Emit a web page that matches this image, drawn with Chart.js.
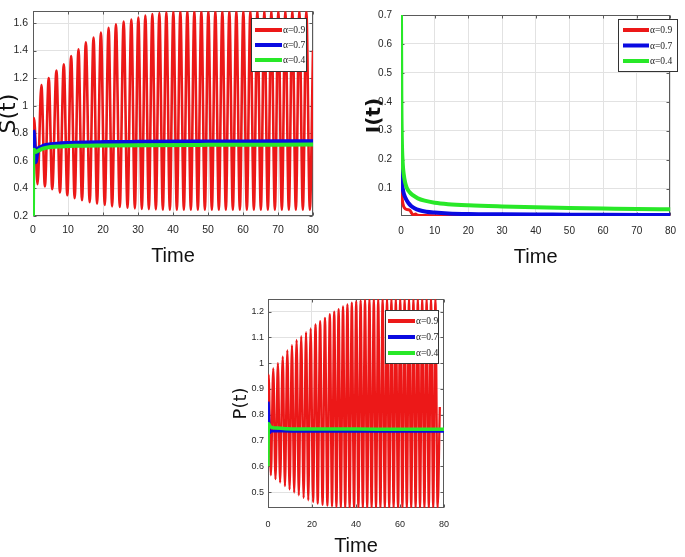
<!DOCTYPE html>
<html><head><meta charset="utf-8">
<script src="https://cdn.jsdelivr.net/npm/chart.js@4"></script>
<style>
html,body{margin:0;padding:0;background:#fff;overflow:hidden}
#wrap{position:relative;width:685px;height:557px;background:#fff}
canvas{position:absolute}
</style></head><body><div id="wrap">
<canvas id="cS" width="330" height="270" style="left:0;top:0"></canvas>
<canvas id="cI" width="340" height="270" style="left:345px;top:0"></canvas>
<canvas id="cP" width="240" height="272" style="left:220px;top:285px"></canvas>
</div>
<script>
// ---------- data ----------
const alphaLabels = ['α=0.9', 'α=0.7', 'α=0.4'];
const xTicksTop = [0, 10, 20, 30, 40, 50, 60, 70, 80];
const xTicksP = [0, 20, 40, 60, 80];
const sYTicks = [0.2, 0.4, 0.6, 0.8, 1, 1.2, 1.4, 1.6];
const iYTicks = [0.1, 0.2, 0.3, 0.4, 0.5, 0.6, 0.7];
const pYTicks = [0.5, 0.6, 0.7, 0.8, 0.9, 1, 1.1, 1.2];

// alpha = 0.9 : oscillating solution (turning points)
const redTimes = [0, 0.3, 1.3, 2.4, 3.4, 4.5, 5.5, 6.7, 7.7, 8.8, 9.8, 10.9, 11.9, 13.0, 14.0, 15.1, 16.2, 17.3, 18.3, 19.4,
  20.5, 21.6, 22.6, 23.7, 24.8, 25.9, 27.0, 28.1, 29.1, 30.1, 31.1, 32.1, 33.1, 34.1, 35.1, 36.1, 37.1, 38.1, 39.1, 40.1,
  41.1, 42.1, 43.1, 44.1, 45.1, 46.1, 47.1, 48.1, 49.1, 50.1, 51.1, 52.1, 53.1, 54.1, 55.1, 56.1, 57.1, 58.1, 59.1, 60.1,
  61.1, 62.1, 63.1, 64.1, 65.1, 66.1, 67.1, 68.1, 69.1, 70.1, 71.1, 72.1, 73.1, 74.1, 75.1, 76.1, 77.1, 78.1, 79.1, 80];
const sRed = [0.70, 0.91, 0.43, 1.15, 0.415, 1.20, 0.395, 1.255, 0.37, 1.30, 0.35, 1.36, 0.33, 1.41, 0.315, 1.46, 0.30, 1.495, 0.29, 1.53,
  0.28, 1.565, 0.27, 1.59, 0.265, 1.61, 0.26, 1.625, 0.255, 1.64, 0.252, 1.655, 0.25, 1.665, 0.248, 1.672, 0.246, 1.678, 0.245, 1.682,
  0.245, 1.685, 0.245, 1.685, 0.245, 1.685, 0.245, 1.685, 0.245, 1.685, 0.245, 1.685, 0.245, 1.685, 0.245, 1.685, 0.245, 1.685, 0.245, 1.685,
  0.245, 1.685, 0.245, 1.685, 0.245, 1.685, 0.245, 1.685, 0.245, 1.685, 0.245, 1.685, 0.245, 1.685, 0.245, 1.685, 0.245, 1.685, 0.245, 1.40];
const pRed = [0.75, 0.955, 0.565, 0.98, 0.55, 1.0, 0.537, 1.025, 0.523, 1.05, 0.51, 1.07, 0.498, 1.09, 0.487, 1.105, 0.477, 1.12, 0.468, 1.135,
  0.461, 1.15, 0.455, 1.163, 0.45, 1.176, 0.447, 1.19, 0.444, 1.2, 0.442, 1.21, 0.441, 1.22, 0.44, 1.228, 0.44, 1.235, 0.44, 1.24,
  0.44, 1.244, 0.44, 1.246, 0.44, 1.247, 0.44, 1.247, 0.44, 1.247, 0.44, 1.247, 0.44, 1.247, 0.44, 1.247, 0.44, 1.247, 0.44, 1.247,
  0.44, 1.247, 0.44, 1.247, 0.44, 1.247, 0.44, 1.247, 0.44, 1.247, 0.44, 1.247, 0.44, 1.247, 0.44, 1.247, 0.44, 0.83];

// S(t)
const sBlueT = [0, 0.2, 0.5, 0.8, 1.1, 1.5, 2.2, 3, 5, 8, 12, 20, 30, 45, 60, 80];
const sBlue = [0.82, 0.81, 0.68, 0.59, 0.64, 0.69, 0.70, 0.71, 0.72, 0.727, 0.732, 0.736, 0.738, 0.74, 0.741, 0.742];
const sGreenT = [0, 0.08, 0.3, 0.7, 1.2, 2, 3, 5, 8, 12, 20, 30, 50, 80];
const sGreen = [0.2, 0.675, 0.68, 0.665, 0.67, 0.68, 0.69, 0.70, 0.705, 0.709, 0.712, 0.714, 0.716, 0.718];

// I(t)
const iRedT = [0, 0.15, 0.4, 0.8, 1.3, 2.0, 2.7, 3.2, 3.7, 4.3, 4.9, 5.6, 7, 10, 20, 40, 60, 80];
const iRed = [0.15, 0.10, 0.06, 0.038, 0.03, 0.027, 0.024, 0.014, 0.009, 0.012, 0.008, 0.007, 0.0065, 0.006, 0.006, 0.006, 0.006, 0.006];
const iBlueT = [0, 0.2, 0.5, 0.9, 1.5, 2.2, 3, 4, 5.5, 7.5, 10, 14, 20, 30, 45, 60, 80];
const iBlue = [0.165, 0.13, 0.1, 0.08, 0.063, 0.05, 0.04, 0.032, 0.025, 0.02, 0.017, 0.014, 0.012, 0.011, 0.01, 0.009, 0.0085];
const iGreenT = [0, 0.1, 0.25, 0.5, 0.8, 1.2, 1.7, 2.5, 3.5, 5, 7, 10, 14, 20, 30, 40, 50, 60, 70, 80];
const iGreen = [0.70, 0.42, 0.27, 0.19, 0.15, 0.122, 0.103, 0.088, 0.077, 0.066, 0.058, 0.051, 0.046, 0.042, 0.038, 0.035, 0.033, 0.031, 0.029, 0.028];

// P(t)
const pBlueT = [0, 0.15, 0.4, 0.7, 1.0, 1.5, 2.5, 5, 10, 20, 40, 80];
const pBlue = [0.85, 0.845, 0.77, 0.73, 0.733, 0.736, 0.737, 0.737, 0.736, 0.736, 0.736, 0.736];
const pGreenT = [0, 0.1, 0.3, 0.7, 1.2, 2, 4, 8, 15, 30, 50, 80];
const pGreen = [0.6, 0.74, 0.765, 0.758, 0.753, 0.75, 0.748, 0.746, 0.745, 0.745, 0.744, 0.744];

// ---------- rendering ----------
const RED = 'rgb(236,24,24)', BLUE = 'rgb(10,10,225)', GREEN = 'rgb(40,232,40)';
const pts = (xs, ys) => xs.map((x, i) => ({ x: x, y: ys[i] }));

const framePlugin = {
  id: 'frame',
  beforeDatasetsDraw(chart) {
    const { ctx, chartArea: a } = chart;
    const x = chart.scales.x, y = chart.scales.y;
    ctx.save();
    ctx.strokeStyle = '#5a5a5a';
    ctx.lineWidth = 1;
    const L = Math.round(a.left) + 0.5, R = Math.round(a.right) - 0.5;
    const T = Math.round(a.top) + 0.5, B = Math.round(a.bottom) - 0.5;
    ctx.strokeRect(L, T, R - L, B - T);
    ctx.beginPath();
    x.ticks.forEach(t => {
      const px = Math.round(x.getPixelForValue(t.value)) + 0.5;
      ctx.moveTo(px, B); ctx.lineTo(px, B - 3);
      ctx.moveTo(px, T); ctx.lineTo(px, T + 3);
    });
    y.ticks.forEach(t => {
      const py = Math.round(y.getPixelForValue(t.value)) + 0.5;
      ctx.moveTo(L, py); ctx.lineTo(L + 3, py);
      ctx.moveTo(R, py); ctx.lineTo(R - 3, py);
    });
    ctx.stroke();
    ctx.restore();
  },
  afterDraw(chart, args, o) {
    const ctx = chart.ctx;
    ctx.save();
    ctx.fillStyle = '#fff';
    ctx.fillRect(o.left, o.top, o.width, o.height);
    ctx.strokeStyle = '#333';
    ctx.lineWidth = 1;
    ctx.strokeRect(o.left + 0.5, o.top + 0.5, o.width, o.height);
    chart.data.datasets.forEach((ds, i) => {
      const yy = o.top + o.firstRow + i * o.rowGap;
      ctx.strokeStyle = ds.borderColor;
      ctx.lineWidth = o.lineW;
      ctx.beginPath();
      ctx.moveTo(o.left + o.lineX0, yy);
      ctx.lineTo(o.left + o.lineX1, yy);
      ctx.stroke();
      ctx.fillStyle = '#222';
      ctx.font = o.font;
      ctx.textBaseline = 'middle';
      ctx.textAlign = 'left';
      ctx.fillText(ds.label, o.left + o.textX, yy + 0.5);
    });
    ctx.restore();
  }
};

const fmt = v => String(Math.round(v * 100) / 100);

function makeChart(id, c) {
  return new Chart(document.getElementById(id), {
    type: 'line',
    data: { datasets: c.datasets },
    options: {
      responsive: false, animation: false, events: [],
      layout: { padding: { left: 0, top: c.padTop, right: c.padRight, bottom: 0 } },
      plugins: { legend: { display: false }, tooltip: { enabled: false }, frame: c.legend },
      elements: { point: { radius: 0 }, line: { cubicInterpolationMode: 'monotone', borderJoinStyle: 'round' } },
      scales: {
        x: {
          type: 'linear', min: 0, max: 80,
          afterFit: s => { s.height = c.xH; },
          afterBuildTicks: s => { s.ticks = c.xTicks.map(v => ({ value: v })); },
          grid: { color: '#e2e2e2', drawTicks: false },
          border: { display: false },
          ticks: { padding: c.xTickPad, color: '#262626', font: c.tickFont, maxRotation: 0, autoSkip: false, callback: fmt },
          title: { display: true, text: 'Time', color: '#111', font: c.xTitleFont, padding: { top: 0, bottom: c.xTitlePad } }
        },
        y: {
          type: 'linear', min: c.yMin, max: c.yMax,
          afterFit: s => { s.width = c.yW; },
          afterBuildTicks: s => { s.ticks = c.yTicks.map(v => ({ value: v })); },
          grid: { color: '#e2e2e2', drawTicks: false },
          border: { display: false },
          ticks: { padding: c.yTickPad, color: '#262626', font: c.tickFont, autoSkip: false, callback: fmt },
          title: { display: true, text: c.yTitle, color: '#111', font: c.yTitleFont, padding: { top: c.yTitlePad, bottom: 0 } }
        }
      }
    },
    plugins: [framePlugin]
  });
}

const narrow = "'Liberation Sans Narrow', 'Arial Narrow', 'Liberation Sans', Arial, sans-serif";
const sans = "'Liberation Sans', Arial, sans-serif";
const legendFont = "9.5px 'Liberation Serif', 'Times New Roman', serif";

// order: red underneath, green on top
makeChart('cS', {
  datasets: [
    { label: alphaLabels[0], data: pts(redTimes, sRed), borderColor: RED, borderWidth: 2.6, order: 3 },
    { label: alphaLabels[1], data: pts(sBlueT, sBlue), borderColor: BLUE, borderWidth: 4, order: 2 },
    { label: alphaLabels[2], data: pts(sGreenT, sGreen), borderColor: GREEN, borderWidth: 4, order: 1 }
  ],
  padTop: 5, padRight: 17, xH: 54, yW: 33,
  xTicks: xTicksTop, yTicks: sYTicks, yMin: 0.2, yMax: 1.685,
  tickFont: { family: sans, size: 10.5 }, xTickPad: 8, yTickPad: 5,
  xTitleFont: { family: narrow, size: 20, lineHeight: 1 }, xTitlePad: 4,
  yTitle: 'S(t)', yTitleFont: { family: "'DejaVu Sans', sans-serif", size: 22, lineHeight: 0.8 }, yTitlePad: 0,
  legend: { left: 251, top: 18, width: 55, height: 53, lineX0: 4, lineX1: 31, textX: 32, firstRow: 12, rowGap: 15, lineW: 4, font: legendFont }
});

makeChart('cI', {
  datasets: [
    { label: alphaLabels[0], data: pts(iRedT, iRed), borderColor: RED, borderWidth: 3, order: 3 },
    { label: alphaLabels[1], data: pts(iBlueT, iBlue), borderColor: BLUE, borderWidth: 4, order: 2 },
    { label: alphaLabels[2], data: pts(iGreenT, iGreen), borderColor: GREEN, borderWidth: 4, order: 1 }
  ],
  padTop: 7, padRight: 6, xH: 54, yW: 56,
  xTicks: xTicksTop, yTicks: iYTicks, yMin: 0.005, yMax: 0.7,
  tickFont: { family: narrow, size: 10 }, xTickPad: 9, yTickPad: 9,
  xTitleFont: { family: narrow, size: 20, lineHeight: 1 }, xTitlePad: 3,
  yTitle: 'I(t)', yTitleFont: { family: "'DejaVu Sans', sans-serif", size: 20, weight: 'bold', lineHeight: 1 }, yTitlePad: 20,
  legend: { left: 273, top: 19, width: 59, height: 52, lineX0: 5, lineX1: 31, textX: 32, firstRow: 11, rowGap: 15.5, lineW: 4, font: legendFont }
});

makeChart('cP', {
  datasets: [
    { label: alphaLabels[0], data: pts(redTimes, pRed), borderColor: RED, borderWidth: 2.3, order: 3 },
    { label: alphaLabels[1], data: pts(pBlueT, pBlue), borderColor: BLUE, borderWidth: 3, order: 2 },
    { label: alphaLabels[2], data: pts(pGreenT, pGreen), borderColor: GREEN, borderWidth: 3.5, order: 1 }
  ],
  padTop: 14, padRight: 13, xH: 49, yW: 48,
  xTicks: xTicksP, yTicks: pYTicks, yMin: 0.438, yMax: 1.249,
  tickFont: { family: sans, size: 9 }, xTickPad: 11, yTickPad: 4,
  xTitleFont: { family: narrow, size: 20, lineHeight: 1 }, xTitlePad: 1,
  yTitle: 'P(t)', yTitleFont: { family: "'DejaVu Sans', sans-serif", size: 18, lineHeight: 1 }, yTitlePad: 12,
  legend: { left: 165, top: 25, width: 53, height: 53, lineX0: 3, lineX1: 30, textX: 31, firstRow: 11, rowGap: 16, lineW: 4, font: legendFont }
});
</script>
</body></html>
